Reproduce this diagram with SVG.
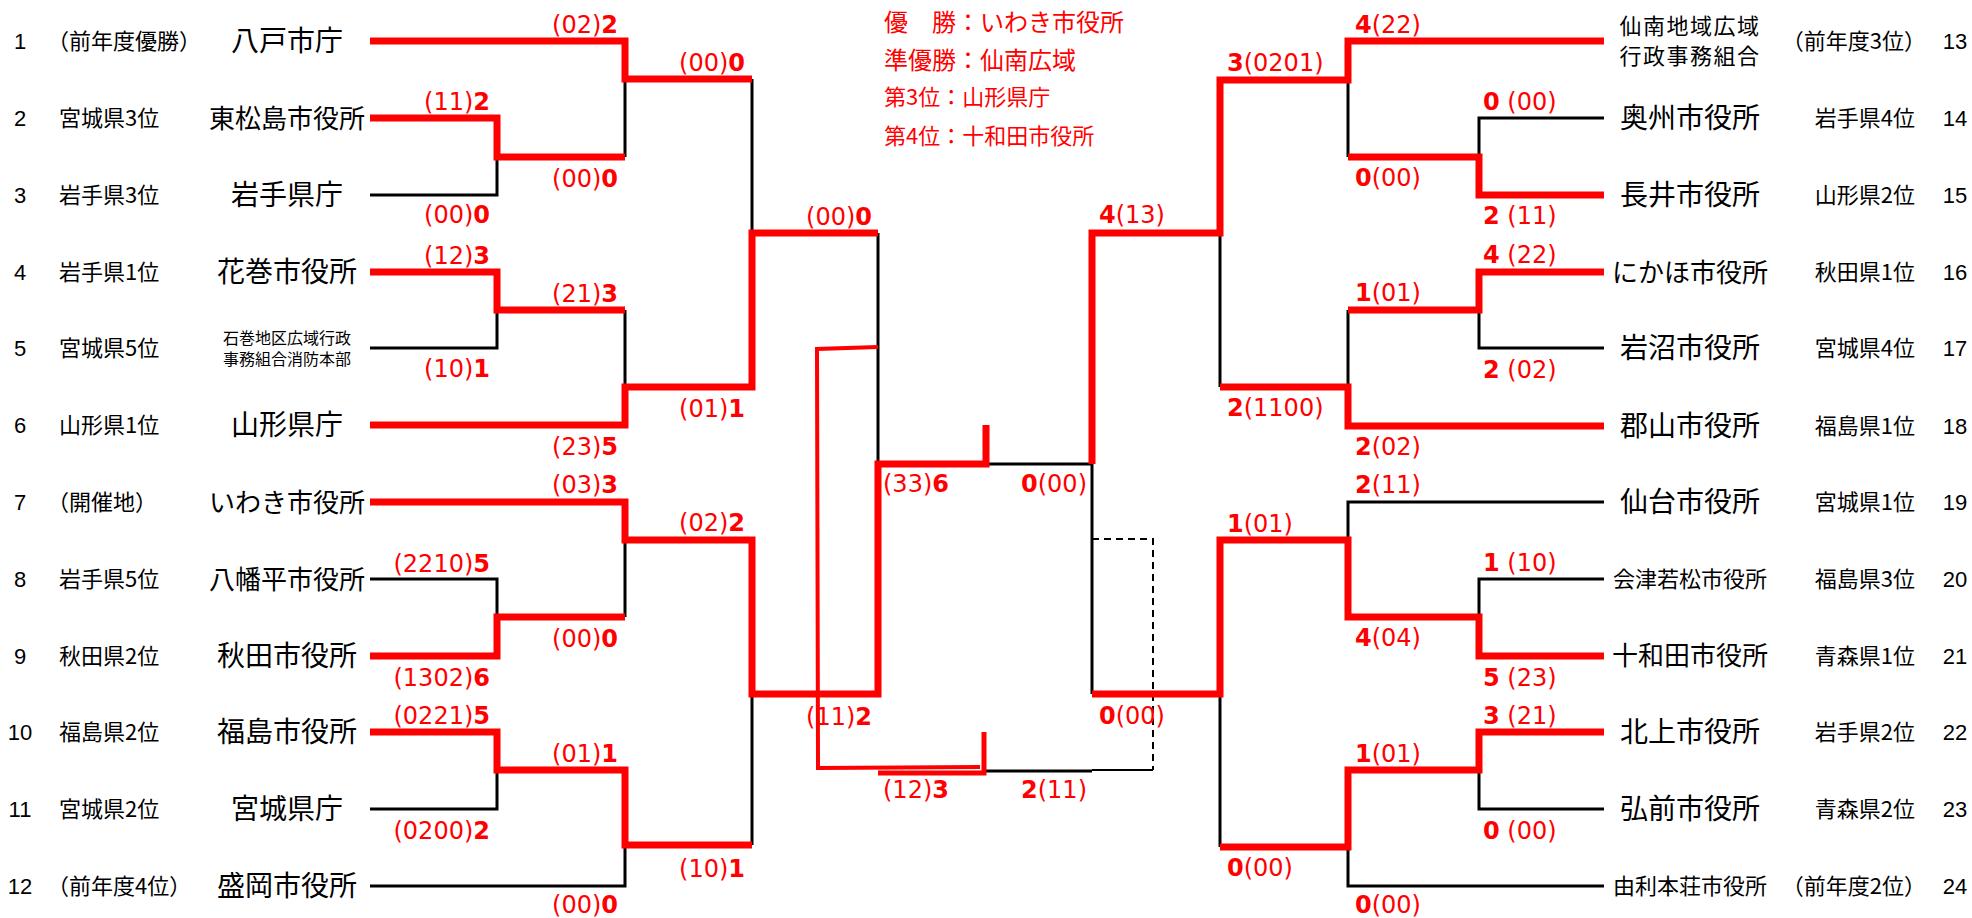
<svg xmlns="http://www.w3.org/2000/svg" width="1972" height="918" viewBox="0 0 1972 918">
<style>
.bg{fill:#fff}
.k{fill:none;stroke:#000;stroke-width:3}
.k2{fill:none;stroke:#000;stroke-width:2}
.d{fill:none;stroke:#000;stroke-width:2;stroke-dasharray:7 5}
.r{fill:none;stroke:#f00;stroke-width:7;stroke-linejoin:miter}
.rt{fill:none;stroke:#f00;stroke-width:4}
.r5{fill:none;stroke:#f00;stroke-width:5}
.num{font-family:'Liberation Sans',Arial,sans-serif;font-size:22px;fill:#000}
.numr{font-family:'Liberation Sans',Arial,sans-serif;font-size:22px;fill:#000;text-anchor:middle}
.lab{font-family:'Noto Sans CJK JP',sans-serif;font-size:22px;fill:#000}
.labr{font-family:'Noto Sans CJK JP',sans-serif;font-size:22px;fill:#000;text-anchor:end}
.nm{font-family:'Noto Sans CJK JP',sans-serif;font-size:28px;fill:#000;text-anchor:middle}
.sc{font-family:'DejaVu Sans',sans-serif;font-size:24px;fill:#f00}
.e{text-anchor:end}
.b{font-weight:bold}
.lg{font-family:'Noto Sans CJK JP',sans-serif;font-size:24px;fill:#f00}
</style>
<rect class="bg" x="0" y="0" width="1972" height="918"/>

<g id="connectors">
  <!-- black base lines -->
  <path class="k" d="M370 195 H497 V157"/>
  <path class="k" d="M625 79 V157"/>
  <path class="k" d="M752 79 V233"/>
  <path class="k" d="M370 348 H497 V310"/>
  <path class="k" d="M625 310 V387"/>
  <path class="k" d="M878 233 V464"/>
  <path class="k" d="M370 579 H497 V617"/>
  <path class="k" d="M625 540 V617"/>
  <path class="k" d="M370 809 H497 V770"/>
  <path class="k" d="M370 886 H625 V845"/>
  <path class="k" d="M752 694 V845"/>
  <path class="k" d="M1604 118 H1479 V157"/>
  <path class="k" d="M1348 80 V157"/>
  <path class="k" d="M1220 233 V387"/>
  <path class="k" d="M1604 348 H1479 V310"/>
  <path class="k" d="M1348 310 V387"/>
  <path class="k" d="M1604 502 H1348 V540"/>
  <path class="k" d="M1604 579 H1479 V617"/>
  <path class="k" d="M1092 464 V694"/>
  <path class="k" d="M1220 694 V847"/>
  <path class="k" d="M1604 809 H1479 V770"/>
  <path class="k" d="M1604 886 H1348 V847"/>
  <path class="k" d="M986 464 H1092"/>
  <path class="k" d="M986 771 H1092"/>
  <path class="k2" d="M1092 770 H1153"/>
  <path class="d" d="M1092 539 H1153 V770"/>
  <!-- red winner paths -->
  <path class="r" d="M370 41 H625 V79 H752"/>
  <path class="r" d="M370 118 H497 V157 H625"/>
  <path class="r" d="M370 272 H497 V310 H625"/>
  <path class="r" d="M370 425 H625 V387 H752 V233 H878"/>
  <path class="r" d="M370 656 H497 V617 H625"/>
  <path class="r" d="M370 502 H625 V540 H752 V694 H878 V464 H986 V425"/>
  <path class="r" d="M370 732 H497 V770 H625 V845 H752"/>
  <path class="r" d="M1604 41 H1348 V80 H1220 V233 H1092 V464"/>
  <path class="r" d="M1604 195 H1479 V157 H1348"/>
  <path class="r" d="M1604 272 H1479 V310 H1348"/>
  <path class="r" d="M1604 426 H1348 V387 H1220"/>
  <path class="r" d="M1604 656 H1479 V617 H1348 V540 H1220 V694 H1092"/>
  <path class="r" d="M1604 732 H1479 V770 H1348 V847 H1220"/>
  <!-- third place -->
  <path class="rt" d="M878 347 L817 349 L818 768 L980 767"/>
  <path class="r5" d="M878 773 H984 V732"/>
</g>

<g id="scores">
  <text class="sc e" x="490" y="110">(11)<tspan class="b">2</tspan></text>
  <text class="sc e" x="490" y="223">(00)<tspan class="b">0</tspan></text>
  <text class="sc e" x="490" y="264">(12)<tspan class="b">3</tspan></text>
  <text class="sc e" x="490" y="377">(10)<tspan class="b">1</tspan></text>
  <text class="sc e" x="490" y="572">(2210)<tspan class="b">5</tspan></text>
  <text class="sc e" x="490" y="686">(1302)<tspan class="b">6</tspan></text>
  <text class="sc e" x="490" y="724">(0221)<tspan class="b">5</tspan></text>
  <text class="sc e" x="490" y="839">(0200)<tspan class="b">2</tspan></text>
  <text class="sc e" x="618" y="33">(02)<tspan class="b">2</tspan></text>
  <text class="sc e" x="618" y="187">(00)<tspan class="b">0</tspan></text>
  <text class="sc e" x="618" y="302">(21)<tspan class="b">3</tspan></text>
  <text class="sc e" x="618" y="455">(23)<tspan class="b">5</tspan></text>
  <text class="sc e" x="618" y="493">(03)<tspan class="b">3</tspan></text>
  <text class="sc e" x="618" y="647">(00)<tspan class="b">0</tspan></text>
  <text class="sc e" x="618" y="762">(01)<tspan class="b">1</tspan></text>
  <text class="sc e" x="618" y="913">(00)<tspan class="b">0</tspan></text>
  <text class="sc e" x="745" y="71">(00)<tspan class="b">0</tspan></text>
  <text class="sc e" x="745" y="417">(01)<tspan class="b">1</tspan></text>
  <text class="sc e" x="745" y="531">(02)<tspan class="b">2</tspan></text>
  <text class="sc e" x="745" y="877">(10)<tspan class="b">1</tspan></text>
  <text class="sc e" x="872" y="225">(00)<tspan class="b">0</tspan></text>
  <text class="sc e" x="872" y="725">(11)<tspan class="b">2</tspan></text>
  <text class="sc" x="883" y="492">(33)<tspan class="b">6</tspan></text>
  <text class="sc e" x="1087" y="492"><tspan class="b">0</tspan>(00)</text>
  <text class="sc" x="883" y="798">(12)<tspan class="b">3</tspan></text>
  <text class="sc e" x="1087" y="798"><tspan class="b">2</tspan>(11)</text>
  <text class="sc" x="1099" y="223"><tspan class="b">4</tspan>(13)</text>
  <text class="sc" x="1099" y="724"><tspan class="b">0</tspan>(00)</text>
  <text class="sc" x="1227" y="71"><tspan class="b">3</tspan>(0201)</text>
  <text class="sc" x="1227" y="416"><tspan class="b">2</tspan>(1100)</text>
  <text class="sc" x="1227" y="532"><tspan class="b">1</tspan>(01)</text>
  <text class="sc" x="1227" y="876"><tspan class="b">0</tspan>(00)</text>
  <text class="sc" x="1355" y="33"><tspan class="b">4</tspan>(22)</text>
  <text class="sc" x="1355" y="186"><tspan class="b">0</tspan>(00)</text>
  <text class="sc" x="1355" y="301"><tspan class="b">1</tspan>(01)</text>
  <text class="sc" x="1355" y="455"><tspan class="b">2</tspan>(02)</text>
  <text class="sc" x="1355" y="493"><tspan class="b">2</tspan>(11)</text>
  <text class="sc" x="1355" y="646"><tspan class="b">4</tspan>(04)</text>
  <text class="sc" x="1355" y="762"><tspan class="b">1</tspan>(01)</text>
  <text class="sc" x="1355" y="913"><tspan class="b">0</tspan>(00)</text>
  <text class="sc" x="1483" y="110"><tspan class="b">0</tspan> (00)</text>
  <text class="sc" x="1483" y="224"><tspan class="b">2</tspan> (11)</text>
  <text class="sc" x="1483" y="263"><tspan class="b">4</tspan> (22)</text>
  <text class="sc" x="1483" y="378"><tspan class="b">2</tspan> (02)</text>
  <text class="sc" x="1483" y="571"><tspan class="b">1</tspan> (10)</text>
  <text class="sc" x="1483" y="686"><tspan class="b">5</tspan> (23)</text>
  <text class="sc" x="1483" y="724"><tspan class="b">3</tspan> (21)</text>
  <text class="sc" x="1483" y="839"><tspan class="b">0</tspan> (00)</text>
</g>

<g id="legend">
  <text class="lg" x="884" y="31">優　勝：いわき市役所</text>
  <text class="lg" x="884" y="69">準優勝：仙南広域</text>
  <text class="lg" x="884" y="105" style="font-size:22px">第3位：山形県庁</text>
  <text class="lg" x="884" y="144" style="font-size:22px">第4位：十和田市役所</text>
</g>

<g id="team1"><text class="num" x="20" y="49" text-anchor="middle">1</text><text class="lab" x="47" y="49">（前年度優勝）</text><text class="nm" x="287" y="51">八戸市庁</text></g>
<g id="team2"><text class="num" x="20" y="126" text-anchor="middle">2</text><text class="lab" x="59" y="126">宮城県3位</text><text class="nm" x="287" y="128" style="font-size:26px">東松島市役所</text></g>
<g id="team3"><text class="num" x="20" y="203" text-anchor="middle">3</text><text class="lab" x="59" y="203">岩手県3位</text><text class="nm" x="287" y="205">岩手県庁</text></g>
<g id="team4"><text class="num" x="20" y="280" text-anchor="middle">4</text><text class="lab" x="59" y="280">岩手県1位</text><text class="nm" x="287" y="282">花巻市役所</text></g>
<g id="team5"><text class="num" x="20" y="356" text-anchor="middle">5</text><text class="lab" x="59" y="356">宮城県5位</text><text class="nm" style="font-size:16px"><tspan x="287" y="344">石巻地区広域行政</tspan><tspan x="287" y="365">事務組合消防本部</tspan></text></g>
<g id="team6"><text class="num" x="20" y="433" text-anchor="middle">6</text><text class="lab" x="59" y="433">山形県1位</text><text class="nm" x="287" y="435">山形県庁</text></g>
<g id="team7"><text class="num" x="20" y="510" text-anchor="middle">7</text><text class="lab" x="47" y="510">（開催地）</text><text class="nm" x="287" y="512" style="font-size:26px">いわき市役所</text></g>
<g id="team8"><text class="num" x="20" y="587" text-anchor="middle">8</text><text class="lab" x="59" y="587">岩手県5位</text><text class="nm" x="287" y="589" style="font-size:26px">八幡平市役所</text></g>
<g id="team9"><text class="num" x="20" y="664" text-anchor="middle">9</text><text class="lab" x="59" y="664">秋田県2位</text><text class="nm" x="287" y="666">秋田市役所</text></g>
<g id="team10"><text class="num" x="20" y="740" text-anchor="middle">10</text><text class="lab" x="59" y="740">福島県2位</text><text class="nm" x="287" y="742">福島市役所</text></g>
<g id="team11"><text class="num" x="20" y="817" text-anchor="middle">11</text><text class="lab" x="59" y="817">宮城県2位</text><text class="nm" x="287" y="819">宮城県庁</text></g>
<g id="team12"><text class="num" x="20" y="894" text-anchor="middle">12</text><text class="lab" x="47" y="894">（前年度4位）</text><text class="nm" x="287" y="896">盛岡市役所</text></g>

<g id="team13"><text class="nm" style="font-size:22px;letter-spacing:1.5px"><tspan x="1690" y="34">仙南地域広域</tspan><tspan x="1690" y="64">行政事務組合</tspan></text><text class="labr" x="1926" y="49">（前年度3位）</text><text class="numr" x="1955" y="49">13</text></g>
<g id="team14"><text class="nm" x="1690" y="128">奥州市役所</text><text class="labr" x="1915" y="126">岩手県4位</text><text class="numr" x="1955" y="126">14</text></g>
<g id="team15"><text class="nm" x="1690" y="205">長井市役所</text><text class="labr" x="1915" y="203">山形県2位</text><text class="numr" x="1955" y="203">15</text></g>
<g id="team16"><text class="nm" x="1690" y="282" style="font-size:26px">にかほ市役所</text><text class="labr" x="1915" y="280">秋田県1位</text><text class="numr" x="1955" y="280">16</text></g>
<g id="team17"><text class="nm" x="1690" y="358">岩沼市役所</text><text class="labr" x="1915" y="356">宮城県4位</text><text class="numr" x="1955" y="356">17</text></g>
<g id="team18"><text class="nm" x="1690" y="436">郡山市役所</text><text class="labr" x="1915" y="434">福島県1位</text><text class="numr" x="1955" y="434">18</text></g>
<g id="team19"><text class="nm" x="1690" y="512">仙台市役所</text><text class="labr" x="1915" y="510">宮城県1位</text><text class="numr" x="1955" y="510">19</text></g>
<g id="team20"><text class="nm" x="1690" y="587" style="font-size:22px">会津若松市役所</text><text class="labr" x="1915" y="587">福島県3位</text><text class="numr" x="1955" y="587">20</text></g>
<g id="team21"><text class="nm" x="1690" y="665" style="font-size:26px">十和田市役所</text><text class="labr" x="1915" y="664">青森県1位</text><text class="numr" x="1955" y="664">21</text></g>
<g id="team22"><text class="nm" x="1690" y="742">北上市役所</text><text class="labr" x="1915" y="740">岩手県2位</text><text class="numr" x="1955" y="740">22</text></g>
<g id="team23"><text class="nm" x="1690" y="819">弘前市役所</text><text class="labr" x="1915" y="817">青森県2位</text><text class="numr" x="1955" y="817">23</text></g>
<g id="team24"><text class="nm" x="1690" y="894" style="font-size:22px">由利本荘市役所</text><text class="labr" x="1926" y="894">（前年度2位）</text><text class="numr" x="1955" y="894">24</text></g>
</svg>
